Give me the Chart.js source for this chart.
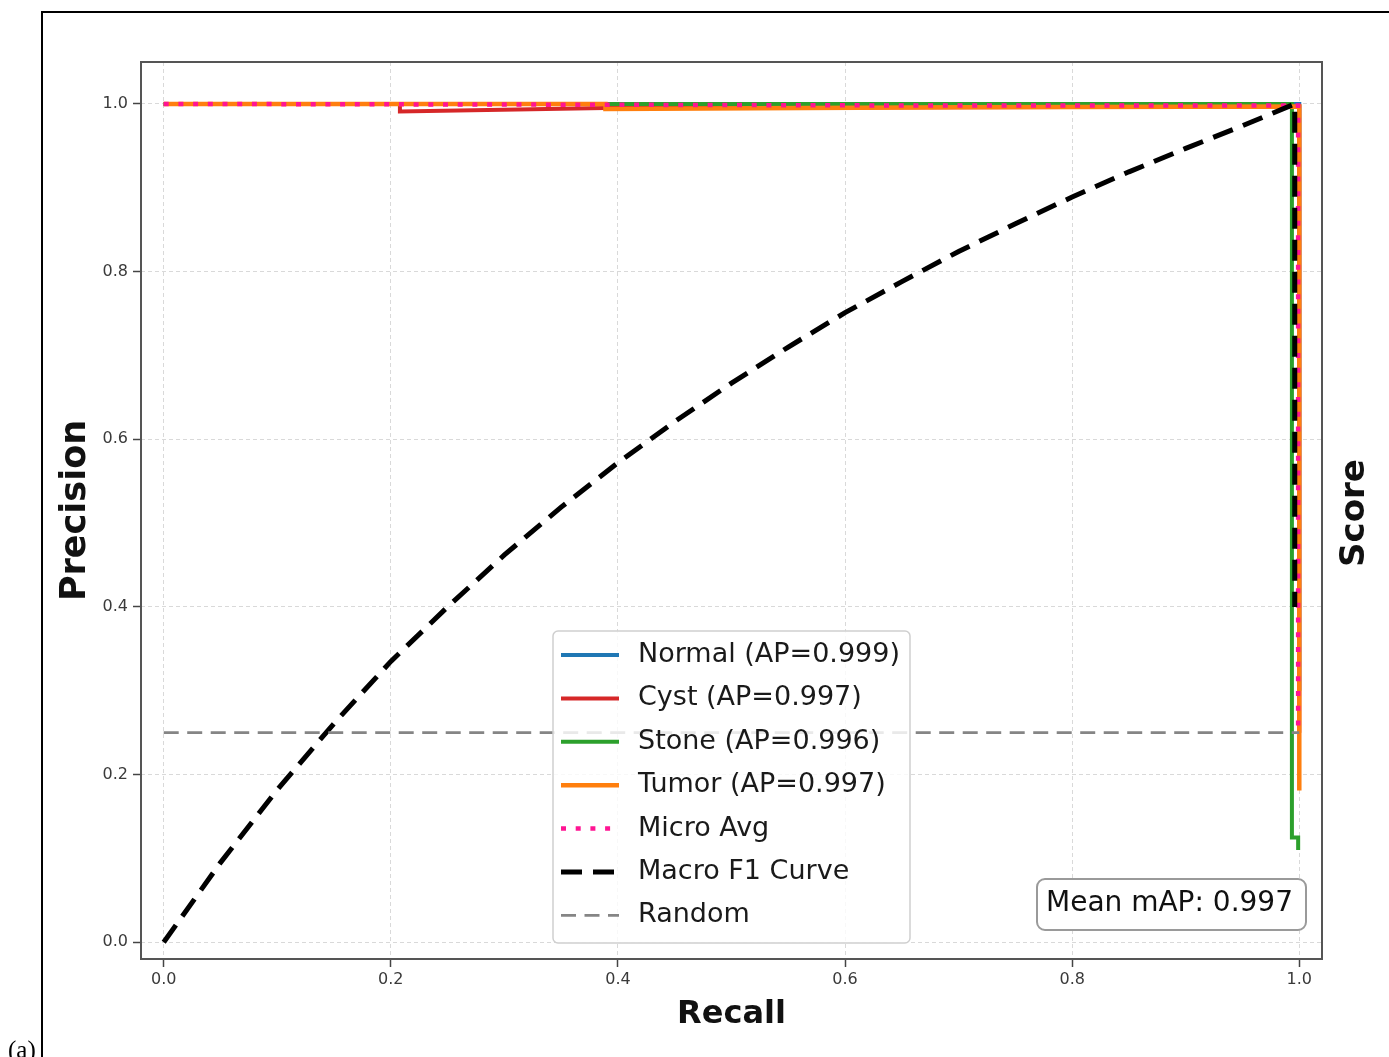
<!DOCTYPE html>
<html>
<head>
<meta charset="utf-8">
<script src="https://cdn.jsdelivr.net/npm/chart.js@4.4.1/dist/chart.umd.min.js"></script>
<style>
  html, body { margin: 0; padding: 0; background: #ffffff; }
  #wrap { position: relative; width: 1389px; height: 1057px; overflow: hidden; }
  #frame { position: absolute; left: 41px; top: 11px; width: 1400px; height: 1100px;
           border-top: 2px solid #000; border-left: 2px solid #000; box-sizing: border-box; }
  #tag { position: absolute; left: 8px; top: 1037px; font-family: "Liberation Serif", "DejaVu Serif", serif;
         font-size: 25px; color: #000; line-height: 25px; }
  canvas { position: absolute; left: 0; top: 0; }
</style>
</head>
<body>
<div id="wrap">
  <div id="frame"></div>
  <canvas id="c" width="1389" height="1057"></canvas>
  <div id="tag">(a)</div>
</div>
<script>
// ---- data ----
const normalRecall    = [0, 1.0, 1.0];
const normalPrecision = [1.0, 1.0, 0.30];

const cystRecall    = [0, 0.208, 0.208, 0.389, 0.70, 1.0, 1.0];
const cystPrecision = [1.0, 1.0, 0.991, 0.995, 0.996, 0.997, 0.25];

const stoneRecall    = [0, 0.9935, 0.9935, 0.999, 0.999];
const stonePrecision = [1.0, 1.0, 0.125, 0.125, 0.11];

const tumorRecall    = [0, 0.389, 0.389, 0.70, 0.999, 1.0, 1.0];
const tumorPrecision = [1.0, 1.0, 0.994, 0.996, 0.997, 0.997, 0.181];

const microRecall    = [0, 0.389, 0.70, 0.999, 0.999];
const microPrecision = [1.0, 0.999, 0.998, 0.998, 0.25];

const macroRecall = [0, 0.05, 0.10, 0.15, 0.20, 0.25, 0.30, 0.35, 0.40, 0.45, 0.50,
                     0.55, 0.60, 0.65, 0.70, 0.75, 0.80, 0.85, 0.90, 0.95, 0.996, 0.996];
const macroF1     = [0, 0.095, 0.182, 0.261, 0.335, 0.40, 0.462, 0.519, 0.572, 0.621, 0.667,
                     0.71, 0.751, 0.788, 0.824, 0.857, 0.889, 0.919, 0.947, 0.974, 1.0, 0.40];

const randomRecall    = [0, 1.0];
const randomPrecision = [0.25, 0.25];

const seriesLabels = ['Normal (AP=0.999)', 'Cyst (AP=0.997)', 'Stone (AP=0.996)', 'Tumor (AP=0.997)',
                      'Micro Avg', 'Macro F1 Curve', 'Random'];
const meanMapText = 'Mean mAP: 0.997';

const xTicks = [0.0, 0.2, 0.4, 0.6, 0.8, 1.0];
const xTickLabels = ['0.0', '0.2', '0.4', '0.6', '0.8', '1.0'];
const yTicks = [0.0, 0.2, 0.4, 0.6, 0.8, 1.0];
const yTickLabels = ['0.0', '0.2', '0.4', '0.6', '0.8', '1.0'];

// ---- helpers ----
const pts = (xs, ys) => xs.map((x, i) => ({ x: x, y: ys[i] }));
const FONT = '"DejaVu Sans", "Noto Sans", sans-serif';

const datasets = [
  { label: seriesLabels[0], data: pts(normalRecall, normalPrecision), borderColor: '#1f77b4', borderWidth: 4, borderDash: [], order: 7 },
  { label: seriesLabels[1], data: pts(cystRecall, cystPrecision), borderColor: '#d62728', borderWidth: 4, borderDash: [], order: 6 },
  { label: seriesLabels[2], data: pts(stoneRecall, stonePrecision), borderColor: '#2ca02c', borderWidth: 4, borderDash: [], order: 5 },
  { label: seriesLabels[3], data: pts(tumorRecall, tumorPrecision), borderColor: '#ff7f0e', borderWidth: 4.5, borderDash: [], order: 4 },
  { label: seriesLabels[4], data: pts(microRecall, microPrecision), borderColor: '#ff1493', borderWidth: 4.5, borderDash: [5, 9.7], order: 3 },
  { label: seriesLabels[5], data: pts(macroRecall, macroF1), borderColor: '#000000', borderWidth: 5, borderDash: [21, 11], order: 2 },
  { label: seriesLabels[6], data: pts(randomRecall, randomPrecision), borderColor: '#858585', borderWidth: 2.8, borderDash: [15, 8.5], order: 1 }
].map(d => Object.assign({ fill: false, pointRadius: 0, pointHoverRadius: 0, tension: 0, borderCapStyle: 'butt', borderJoinStyle: 'miter' }, d));

const decorPlugin = {
  id: 'decor',
  afterDatasetsDraw(chart) {
    const { ctx, chartArea: a } = chart;
    ctx.save();
    ctx.strokeStyle = '#555555';
    ctx.lineWidth = 2;
    ctx.strokeRect(a.left, a.top, a.right - a.left, a.bottom - a.top);
    ctx.restore();
  },
  afterDraw(chart) {
    const ctx = chart.ctx;
    // legend
    ctx.save();
    const bx = 553, by = 631, bw = 357, bh = 312;
    ctx.beginPath();
    ctx.roundRect(bx, by, bw, bh, 5);
    ctx.fillStyle = 'rgba(255,255,255,0.82)';
    ctx.fill();
    ctx.strokeStyle = '#cfcfcf';
    ctx.lineWidth = 1.5;
    ctx.stroke();
    const ds = chart.data.datasets;
    ds.forEach((d, i) => {
      const y = 655 + i * 43.4;
      ctx.beginPath();
      ctx.setLineDash(d.borderDash || []);
      ctx.lineCap = 'butt';
      ctx.strokeStyle = d.borderColor;
      ctx.lineWidth = d.borderWidth;
      ctx.moveTo(561, y);
      ctx.lineTo(619, y);
      ctx.stroke();
      ctx.setLineDash([]);
      ctx.fillStyle = '#1a1a1a';
      ctx.font = '27px ' + FONT;
      ctx.textBaseline = 'middle';
      ctx.textAlign = 'left';
      ctx.fillText(d.label, 638, y);
    });
    // mean mAP box
    ctx.beginPath();
    ctx.roundRect(1037, 879, 269, 51, 8);
    ctx.fillStyle = '#ffffff';
    ctx.fill();
    ctx.strokeStyle = '#9a9a9a';
    ctx.lineWidth = 2;
    ctx.stroke();
    ctx.fillStyle = '#111111';
    ctx.font = '28px ' + FONT;
    ctx.textBaseline = 'middle';
    ctx.fillText(meanMapText, 1046, 904);
    // right axis title
    ctx.translate(1355, 513);
    ctx.rotate(-Math.PI / 2);
    ctx.textAlign = 'center';
    ctx.font = 'bold 34px ' + FONT;
    ctx.fillText('Score', 0, 0);
    ctx.restore();
  }
};

new Chart(document.getElementById('c'), {
  type: 'line',
  data: { datasets: datasets },
  options: {
    responsive: false,
    animation: false,
    devicePixelRatio: 1,
    layout: { padding: { left: 0, right: 67, top: 62, bottom: 0 } },
    plugins: { legend: { display: false }, tooltip: { enabled: false } },
    scales: {
      x: {
        type: 'linear',
        min: -0.02, max: 1.02,
        afterFit: s => { s.height = 98; },
        afterBuildTicks: s => { s.ticks = xTicks.map(v => ({ value: v })); },
        ticks: {
          includeBounds: false,
          callback: (v, i) => xTickLabels[i],
          font: { family: FONT, size: 16 },
          color: '#3a3a3a',
          padding: 3,
          maxRotation: 0
        },
        grid: { color: '#d9d9d9', lineWidth: 1, tickColor: '#444444', tickLength: 8, tickWidth: 1.5, tickBorderDash: [] },
        border: { display: false, dash: [4, 3] },
        title: {
          display: true, text: 'Recall', color: '#111111',
          font: { family: FONT, size: 32, weight: 'bold', lineHeight: 1.2 },
          padding: { top: 0, bottom: 23 }
        }
      },
      y: {
        type: 'linear',
        min: -0.02, max: 1.05,
        afterFit: s => { s.width = 141; },
        afterBuildTicks: s => { s.ticks = yTicks.map(v => ({ value: v })); },
        ticks: {
          includeBounds: false,
          callback: (v, i) => yTickLabels[i],
          font: { family: FONT, size: 16 },
          color: '#3a3a3a',
          padding: 5
        },
        grid: { color: '#d9d9d9', lineWidth: 1, tickColor: '#444444', tickLength: 8, tickWidth: 1.5, tickBorderDash: [] },
        border: { display: false, dash: [4, 3] },
        title: {
          display: true, text: 'Precision', color: '#111111',
          font: { family: FONT, size: 35, weight: 'bold', lineHeight: 1.2 },
          padding: { top: 55, bottom: 0 }
        }
      }
    }
  },
  plugins: [decorPlugin]
});
</script>
</body>
</html>
